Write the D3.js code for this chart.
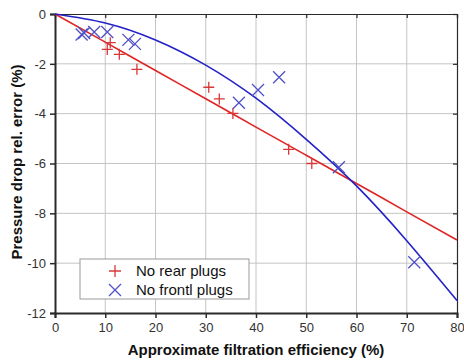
<!DOCTYPE html>
<html>
<head>
<meta charset="utf-8">
<script src="https://cdn.jsdelivr.net/npm/d3@7"></script>
<style>
  body { margin: 0; background: #fff; }
  text { font-family: Arial, "Liberation Sans", sans-serif; }
</style>
</head>
<body>
<script>
// measured points
const rearX = [10.4, 11, 12.8, 16.3, 30.6, 32.7, 35.4, 46.5, 51.1]
const rearY = [-1.42, -1.15, -1.62, -2.22, -2.94, -3.41, -3.99, -5.43, -6.0]
const frontX = [5.3, 5.8, 7.8, 10.4, 14.6, 15.9, 36.6, 40.4, 44.6, 56.5, 71.5]
const frontY = [-0.82, -0.76, -0.72, -0.72, -1.04, -1.2, -3.56, -3.05, -2.54, -6.15, -9.96]

// fit lines
const fitX = [0, 10, 20, 30, 40, 50, 60, 70, 80]
const rearFit = [0, -1.13, -2.27, -3.4, -4.54, -5.67, -6.8, -7.94, -9.07]
const frontFit = [0, -0.36, -1.04, -2.05, -3.38, -5.03, -6.9, -9.1, -11.5]

const xTicks = [0, 10, 20, 30, 40, 50, 60, 70, 80]
const yTicks = [0, -2, -4, -6, -8, -10, -12]

const W = 464, H = 362
const m = { l: 55, r: 7, t: 14, b: 49 }

const svg = d3.select('body').append('svg')
	.attr('width', W).attr('height', H)

const x = d3.scaleLinear().domain([0, 80]).range([m.l, W - m.r])
const y = d3.scaleLinear().domain([-12, 0]).range([H - m.b, m.t])

const RED = '#e02424', BLUE = '#2222c8'

// grid
svg.append('g').selectAll('line.vx').data(xTicks.slice(1, -1)).join('line')
	.attr('x1', d => x(d)).attr('x2', d => x(d))
	.attr('y1', y(0)).attr('y2', y(-12))
	.attr('stroke', '#c4c4c4').attr('stroke-width', 1)
svg.append('g').selectAll('line.hy').data(yTicks.slice(1, -1)).join('line')
	.attr('x1', x(0)).attr('x2', x(80))
	.attr('y1', d => y(d)).attr('y2', d => y(d))
	.attr('stroke', '#c4c4c4').attr('stroke-width', 1)

// axes
const gx = svg.append('g').attr('transform', `translate(0,${y(-12)})`)
	.call(d3.axisBottom(x).tickValues(xTicks).tickSize(5).tickPadding(5))
const gy = svg.append('g').attr('transform', `translate(${x(0)},0)`)
	.call(d3.axisLeft(y).tickValues(yTicks).tickSize(5).tickPadding(4).tickFormat(d => d === 0 ? '0' : d3.format('d')(d).replace('−', '-')))
const gt = svg.append('g').attr('transform', `translate(0,${y(0)})`)
	.call(d3.axisBottom(x).tickValues(xTicks).tickSize(4).tickFormat(''))
const gr = svg.append('g').attr('transform', `translate(${x(80)},0)`)
	.call(d3.axisRight(y).tickValues(yTicks).tickSize(-4).tickFormat(''))

;[gx, gy].forEach(g => {
	g.select('.domain').attr('stroke', '#2a2a2a').attr('stroke-width', 2)
	g.selectAll('.tick line').attr('stroke', '#2a2a2a').attr('stroke-width', 1.5)
	g.selectAll('.tick text').attr('font-size', 13).attr('fill', '#333')
})
;[gt, gr].forEach(g => {
	g.select('.domain').attr('stroke', '#2a2a2a').attr('stroke-width', 1.2)
	g.selectAll('.tick line').attr('stroke', '#2a2a2a').attr('stroke-width', 1.2)
})

// fits
const line = d3.line().x(d => x(d[0])).y(d => y(d[1])).curve(d3.curveNatural)
svg.append('path').datum(fitX.map((d, i) => [d, rearFit[i]]))
	.attr('d', line).attr('fill', 'none').attr('stroke', RED).attr('stroke-width', 1.6)
svg.append('path').datum(fitX.map((d, i) => [d, frontFit[i]]))
	.attr('d', line).attr('fill', 'none').attr('stroke', BLUE).attr('stroke-width', 1.6)

// markers
const plus = s => `M${-s},0H${s}M0,${-s}V${s}`
const cross = s => `M${-s},${-s}L${s},${s}M${-s},${s}L${s},${-s}`

svg.append('g').selectAll('path').data(rearX.map((d, i) => [d, rearY[i]])).join('path')
	.attr('transform', d => `translate(${x(d[0])},${y(d[1])})`)
	.attr('d', plus(5.5)).attr('stroke', '#d83838').attr('stroke-width', 1.3).attr('fill', 'none')
svg.append('g').selectAll('path').data(frontX.map((d, i) => [d, frontY[i]])).join('path')
	.attr('transform', d => `translate(${x(d[0])},${y(d[1])})`)
	.attr('d', cross(6)).attr('stroke', '#5050c8').attr('stroke-width', 1.3).attr('fill', 'none')

// legend
const lg = svg.append('g').attr('transform', 'translate(80,259)')
lg.append('rect').attr('width', 169).attr('height', 40)
	.attr('fill', '#fff').attr('stroke', '#9a9a9a').attr('stroke-width', 1)
lg.append('path').attr('transform', 'translate(35,12)').attr('d', plus(6))
	.attr('stroke', '#d83838').attr('stroke-width', 1.3)
lg.append('path').attr('transform', 'translate(35,31)').attr('d', cross(6))
	.attr('stroke', '#5050c8').attr('stroke-width', 1.3)
lg.append('text').attr('x', 56).attr('y', 17).attr('font-size', 15).attr('fill', '#111').text('No rear plugs')
lg.append('text').attr('x', 56).attr('y', 36).attr('font-size', 15).attr('fill', '#111').text('No frontl plugs')

// titles
svg.append('text').attr('x', 256).attr('y', 355).attr('text-anchor', 'middle')
	.attr('font-size', 15).attr('font-weight', 'bold').attr('fill', '#111')
	.text('Approximate filtration efficiency (%)')
svg.append('text').attr('transform', 'translate(22,162) rotate(-90)').attr('text-anchor', 'middle')
	.attr('font-size', 15).attr('font-weight', 'bold').attr('fill', '#111')
	.text('Pressure drop rel. error (%)')
</script>
</body>
</html>
